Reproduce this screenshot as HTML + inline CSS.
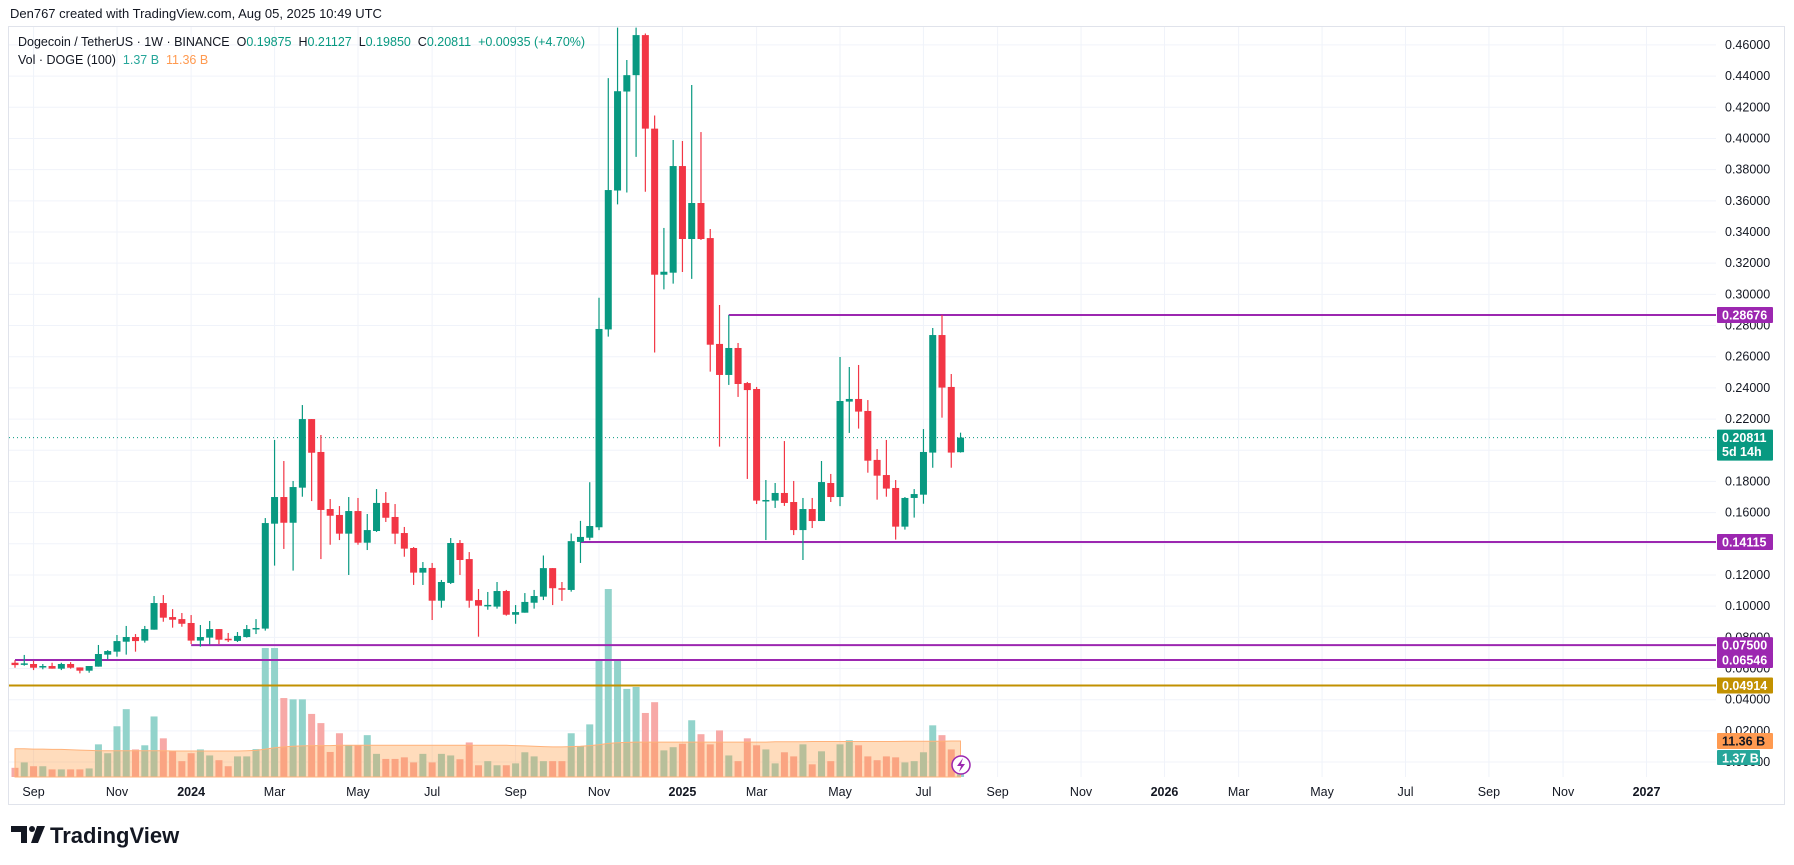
<!DOCTYPE html>
<html><head><meta charset="utf-8"><style>
html,body{margin:0;padding:0;background:#fff;}
svg{display:block;font-family:"Liberation Sans",sans-serif;}
</style></head><body>
<svg id="chart" width="1794" height="865" viewBox="0 0 1794 865" xmlns="http://www.w3.org/2000/svg">
<rect x="0" y="0" width="1794" height="865" fill="#fff"/>
<text x="10" y="18" font-size="13" fill="#131722">Den767 created with TradingView.com, Aug 05, 2025 10:49 UTC</text>
<rect x="8.5" y="26.5" width="1776" height="778" fill="none" stroke="#e0e3eb"/>
<g id="grid"></g>
<g id="volume"></g>
<g id="levels"></g>
<g id="candles"></g>
<g id="axis"></g>
<g font-size="12.5">
<text x="18" y="46" fill="#131722">Dogecoin / TetherUS · 1W · BINANCE&#160;&#160;O<tspan fill="#089981">0.19875</tspan>&#160;&#160;H<tspan fill="#089981">0.21127</tspan>&#160;&#160;L<tspan fill="#089981">0.19850</tspan>&#160;&#160;C<tspan fill="#089981">0.20811</tspan>&#160;&#160;<tspan fill="#089981">+0.00935 (+4.70%)</tspan></text>
<text x="18" y="64" fill="#131722">Vol · DOGE (100)&#160;&#160;<tspan fill="#26a69a">1.37 B</tspan>&#160;&#160;<tspan fill="#ff9a50">11.36 B</tspan></text>
</g>
<g>
<circle cx="961" cy="765" r="9" fill="#fff" stroke="#9c27b0" stroke-width="1.5"/>
<path d="M963 758 L957 766 L961 766 L959 772 L965 764 L961 764 Z" fill="#9c27b0"/>
</g>
<g>
<path d="M11 826 H27 V843 H21 V832 H11 Z" fill="#131722"/>
<circle cx="32" cy="829" r="3" fill="#131722"/>
<path d="M37 826 H45 L38 843 H31 Z" fill="#131722"/>
<text x="50" y="843" font-size="22" font-weight="bold" fill="#131722">TradingView</text>
</g>
</svg>
<script>
const priceTicks = [0,0.02,0.04,0.06,0.08,0.10,0.12,0.14,0.16,0.18,0.20,0.22,0.24,0.26,0.28,0.30,0.32,0.34,0.36,0.38,0.40,0.42,0.44,0.46];
const timeTickLabels = ["Sep","Nov","2024","Mar","May","Jul","Sep","Nov","2025","Mar","May","Jul","Sep","Nov","2026","Mar","May","Jul","Sep","Nov","2027"];
const timeTickDates = ["2023-09-04","2023-11-06","2024-01-01","2024-03-04","2024-05-06","2024-07-01","2024-09-02","2024-11-04","2025-01-06","2025-03-03","2025-05-05","2025-07-07","2025-09-01","2025-11-03","2026-01-05","2026-03-02","2026-05-04","2026-07-06","2026-09-07","2026-11-02","2027-01-04"];
const firstBarDate = "2023-08-21";
const opens = [.0637,.0627,.0629,.0612,.0616,.0599,.0629,.0607,.0586,.0612,.0689,.0708,.0772,.0802,.0779,.0849,.1020,.0930,.0917,.0892,.0779,.0798,.0853,.0791,.0777,.0802,.0851,.0856,.1529,.1700,.1535,.1760,.2200,.1989,.1623,.1585,.1465,.1610,.1407,.1482,.1662,.1572,.1469,.1373,.1215,.1245,.1035,.1149,.1405,.1302,.1039,.1003,.0997,.1097,.0945,.0958,.1022,.1061,.1244,.1115,.1104,.1412,.1439,.1506,.2775,.3666,.4301,.4406,.4663,.4063,.3126,.3139,.3823,.3355,.3586,.3361,.2682,.2483,.2656,.2431,.2393,.1677,.1677,.1726,.1668,.1488,.1623,.1546,.1790,.1700,.2312,.2329,.2252,.1938,.1841,.1758,.1510,.1694,.1715,.1985,.2739,.2406,.19875];
const highs = [.0654,.0687,.0650,.0629,.0637,.0637,.0641,.0607,.0616,.0751,.0718,.0815,.0873,.0821,.0873,.1065,.1071,.0981,.0956,.0943,.0879,.0905,.0853,.0828,.0834,.0879,.0917,.1565,.2066,.1931,.1803,.2290,.2200,.2098,.1687,.1642,.1700,.1694,.1591,.1751,.1732,.1655,.1508,.1379,.1283,.1277,.1168,.1437,.1424,.1347,.1110,.1091,.1155,.1104,.1007,.1084,.1104,.1325,.1244,.1155,.1466,.1547,.1795,.2978,.4387,.4711,.4503,.4711,.4673,.4147,.3426,.3990,.3984,.4343,.4041,.3419,.2932,.2868,.2688,.2438,.2406,.1809,.1790,.2059,.1803,.1694,.1694,.1931,.1848,.2598,.2534,.2547,.2322,.2008,.2066,.1809,.1700,.1751,.2136,.2784,.2868,.2489,.21127];
const lows = [.0605,.0618,.0590,.0595,.0599,.0590,.0599,.0569,.0573,.0612,.0659,.0676,.0689,.0708,.0766,.0849,.0900,.0862,.0868,.0757,.0740,.0755,.0757,.0770,.0770,.0798,.0821,.0843,.1260,.1367,.1228,.1702,.1674,.1302,.1394,.1424,.1200,.1394,.1360,.1476,.1540,.1398,.1317,.1136,.1136,.0911,.0990,.1142,.1200,.0990,.0804,.0977,.0984,.0939,.0887,.0958,.0984,.1039,.1007,.1034,.1093,.1277,.1423,.1488,.2729,.3577,.3653,.3882,.3658,.2627,.3032,.3069,.3143,.3099,.3349,.2504,.2023,.2419,.2342,.1816,.1655,.1424,.1630,.1643,.1456,.1296,.1501,.1546,.1668,.1642,.2111,.2139,.1856,.1683,.1702,.1427,.1491,.1568,.1657,.1888,.2209,.1888,.19850];
const closes = [.0622,.0633,.0605,.0616,.0599,.0629,.0605,.0586,.0616,.0693,.0712,.0776,.0802,.0776,.0853,.1020,.0926,.0913,.0887,.0779,.0802,.0853,.0785,.0781,.0809,.0853,.0860,.1533,.1700,.1535,.1764,.2200,.1984,.1617,.1580,.1465,.1610,.1407,.1488,.1662,.1567,.1465,.1369,.1215,.1245,.1035,.1155,.1405,.1296,.1035,.1003,.1008,.1097,.0945,.0962,.1027,.1065,.1244,.1115,.1110,.1417,.1444,.1514,.2778,.3669,.4303,.4406,.4663,.4063,.3126,.3145,.3823,.3355,.3586,.3355,.2677,.2483,.2656,.2425,.2386,.1677,.1681,.1726,.1662,.1488,.1623,.1546,.1796,.1700,.2316,.2329,.2248,.1933,.1837,.1754,.1510,.1694,.1719,.1989,.2739,.2402,.1985,.20811];
const volumesB = [2.9,4.6,3.4,3.4,2.4,2.4,2.4,2.4,2.7,10.3,7.5,16.0,21.4,8.7,10.0,19.1,12.2,8.1,5.0,7.5,8.7,6.8,5.3,3.4,6.5,6.5,8.8,40.7,40.7,24.9,24.5,24.5,19.9,17.0,7.9,13.8,10.0,10.0,13.2,7.3,5.7,5.7,6.2,4.6,7.3,4.6,7.3,6.8,5.6,10.9,3.7,5.0,3.7,3.7,4.3,7.8,6.5,5.0,5.0,5.0,13.8,9.7,16.6,36.9,59.3,36.9,27.8,28.4,20.2,23.6,8.4,9.4,10.5,17.9,13.5,10.3,14.7,6.8,5.0,12.2,10.0,8.7,4.3,7.8,6.5,10.3,4.0,8.1,5.0,10.3,11.6,10.0,6.5,5.3,6.5,6.2,4.6,5.0,7.8,16.3,13.2,8.7,1.37];
const volumeMA = [8.9,8.9,8.8,8.8,8.7,8.7,8.6,8.5,8.4,8.3,8.3,8.3,8.3,8.3,8.3,8.3,8.3,8.2,8.2,8.2,8.2,8.2,8.2,8.2,8.2,8.3,8.4,8.8,9.2,9.5,9.7,9.8,9.9,9.9,9.9,10.0,10.0,10.0,10.0,10.0,10.0,10.0,10.0,10.0,10.0,10.0,10.0,10.0,10.0,10.0,10.0,10.0,10.0,10.0,9.9,9.8,9.7,9.6,9.5,9.5,9.6,9.7,9.9,10.2,10.6,10.8,10.9,11.0,11.0,11.0,11.0,11.0,11.0,11.0,11.0,11.0,11.0,11.0,11.0,11.0,11.0,11.0,11.1,11.1,11.1,11.1,11.2,11.2,11.2,11.2,11.2,11.2,11.2,11.2,11.2,11.2,11.3,11.3,11.3,11.3,11.3,11.35,11.36];
const levelPrices = [0.28676, 0.14115, 0.075, 0.06546, 0.04914];
const levelStartBars = [77, 61, 19, 0, -1];
const levelColors = ["#9c27b0","#9c27b0","#9c27b0","#9c27b0","#c29100"];
const lastPrice = 0.20811;

const NS = "http://www.w3.org/2000/svg";
const PLOT_L = 9, PLOT_R = 1716, PLOT_T = 27, VOL_BASE = 777;
const BAR0_X = 15, BAR_STEP = 9.27;
function yP(p){ return 542 + (0.14115 - p) * 1559; }
function xBar(i){ return BAR0_X + i * BAR_STEP; }
function xDate(s){ const d=(Date.parse(s)-Date.parse(firstBarDate))/86400000; return BAR0_X + d*BAR_STEP/7; }
function yV(v){ return VOL_BASE - v * 3.17; }
function mk(tag, attrs, parent){ const e=document.createElementNS(NS,tag); for(const k in attrs) e.setAttribute(k,attrs[k]); parent.appendChild(e); return e; }

const grid = document.getElementById('grid');
priceTicks.forEach(p=>{
  const l = mk('line',{x1:PLOT_L,x2:PLOT_R,y1:yP(p),y2:yP(p),stroke:'#f0f3fa','stroke-width':1},grid);
  
  
});
timeTickDates.forEach(d=>{
  const x=xDate(d);
  const l = mk('line',{x1:x,x2:x,y1:PLOT_T,y2:VOL_BASE,stroke:'#f0f3fa','stroke-width':1},grid);
  
  
});

const vol = document.getElementById('volume');
volumesB.forEach((v,i)=>{
  const up = closes[i] >= opens[i];
  const r = mk('rect',{x:xBar(i)-3.5,y:yV(v),width:7,height:VOL_BASE-yV(v),fill: up?'#92d3cb':'#f7a9a7'},vol);
  
  
});
let d = 'M'+xBar(0)+' '+VOL_BASE;
volumeMA.forEach((v,i)=>{ d += ' L'+xBar(i).toFixed(1)+' '+yV(v).toFixed(1); });
d += ' L'+xBar(volumeMA.length-1).toFixed(1)+' '+VOL_BASE+' Z';
const ma = mk('path',{d:d,fill:'#ff9a40','fill-opacity':0.35,stroke:'#ffb27a','stroke-width':1},vol);



const lv = document.getElementById('levels');
const cur = mk('line',{x1:PLOT_L,x2:PLOT_R,y1:yP(lastPrice),y2:yP(lastPrice),stroke:'#089981','stroke-width':1,'stroke-dasharray':'1 3'},lv);


levelPrices.forEach((p,k)=>{
  const x0 = levelStartBars[k] < 0 ? PLOT_L : xBar(levelStartBars[k]);
  const l = mk('line',{x1:x0,x2:PLOT_R,y1:yP(p),y2:yP(p),stroke:levelColors[k],'stroke-width':2},lv);
  
  
});

const cg = document.getElementById('candles');
opens.forEach((o,i)=>{
  const c = closes[i], up = c >= o, col = up ? '#089981' : '#f23645';
  const x = xBar(i);
  const g = mk('g',{},cg);
  
  
  mk('line',{x1:x,x2:x,y1:yP(highs[i]),y2:yP(lows[i]),stroke:col,'stroke-width':1.2},g);
  const top = yP(Math.max(o,c)), bot = yP(Math.min(o,c));
  mk('rect',{x:x-3.5,y:top,width:7,height:Math.max(1.5,bot-top),fill:col},g);
});

const ax = document.getElementById('axis');
priceTicks.forEach(p=>{
  const t = mk('text',{x:1725,y:yP(p)+4,'font-size':12.5,fill:'#131722'},ax);
  t.textContent = p.toFixed(5);
  
  
});
timeTickDates.forEach((dd,k)=>{
  const isYear = /^\d{4}$/.test(timeTickLabels[k]);
  const t = mk('text',{x:xDate(dd),y:796,'font-size':12.5,'text-anchor':'middle',fill:'#131722','font-weight':isYear?'bold':'normal'},ax);
  t.textContent = timeTickLabels[k];
  
  
});
function badge(y, h, w, fill, lines, tcol, name){
  const g = mk('g',{},ax);
  
  
  mk('rect',{x:1717,y:y,width:w,height:h,fill:fill,rx:1},g);
  lines.forEach((s,j)=>{ const t=mk('text',{x:1722,y:y+12.5+j*14,'font-size':12.5,fill:tcol,'font-weight':'bold'},g); t.textContent=s; });
}
levelPrices.forEach((p,k)=>{
  badge(yP(p)-8, 16, 56, levelColors[k], [p.toFixed(5)], '#fff', 'level-price-badge');
});
badge(yP(lastPrice)-8, 31, 56, '#089981', [lastPrice.toFixed(5), '5d 14h'], '#fff', 'last-price-badge');
badge(733, 16, 56, '#ff9a50', ['11.36 B'], '#131722', 'volume-ma-badge');
badge(750, 15, 43, '#26a69a', ['1.37 B'], '#fff', 'volume-badge');
</script>
</body></html>
